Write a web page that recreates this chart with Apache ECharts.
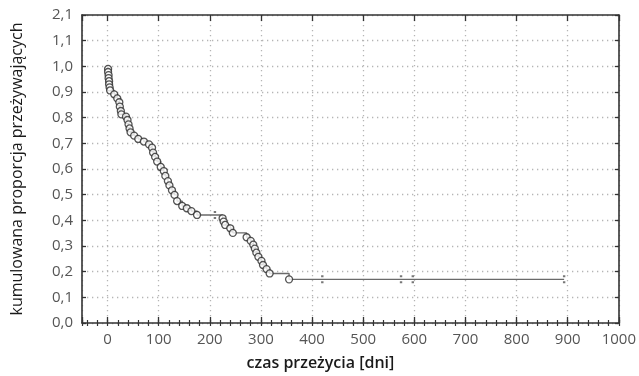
<!DOCTYPE html>
<html>
<head>
<meta charset="utf-8">
<script src="https://cdn.jsdelivr.net/npm/echarts@6/dist/echarts.min.js"></script>
<style>
html,body{margin:0;padding:0;background:#fff;}
#chart{width:639px;height:376px;}
</style>
</head>
<body>
<div id="chart"></div>
<script>
// Event times (days) and cumulative survival proportion after each event
var eventTimes = [1,1,2,2,3,3,4,5,
  13,19,23,24,26,27,36,39,41,43,45,52,60,71,81,87,89,93,97,104,110,113,118,121,126,131,136,146,155,164,175,
  225,227,230,240,245,272,280,285,288,291,295,301,304,311,317,355];
var eventSurvival = [0.990,0.978,0.966,0.954,0.942,0.930,0.918,0.906,
  0.891,0.875,0.860,0.843,0.826,0.813,0.804,0.791,0.774,0.758,0.743,0.730,0.717,0.707,0.696,0.683,0.664,0.647,0.629,0.608,0.592,0.573,0.553,0.536,0.517,0.499,0.475,0.456,0.447,0.436,0.421,
  0.408,0.395,0.382,0.369,0.351,0.334,0.320,0.305,0.290,0.274,0.258,0.242,0.226,0.210,0.193,0.170];
// Censored observations
var censorTimes = [210,420,574,597,893];
var censorSurvival = [0.421,0.170,0.170,0.170,0.170];
// Axis tick labels
var xTickLabels = ['0','100','200','300','400','500','600','700','800','900','1000'];
var yTickLabels = ['0,0','0,1','0,2','0,3','0,4','0,5','0,6','0,7','0,8','0,9','1,0','1,1','2,1'];
var xTitle = 'czas przeżycia [dni]';
var yTitle = 'kumulowana proporcja przeżywających';

var startPoint = [0, 1.0];
var linePts = [startPoint];
var all = [];
eventTimes.forEach(function(t,i){ all.push([t, eventSurvival[i]]); });
censorTimes.forEach(function(t,i){ all.push([t, censorSurvival[i]]); });
all.sort(function(a,b){ return a[0]-b[0] || b[1]-a[1]; });
all.forEach(function(p){ linePts.push([p[0], p[1]]); });

var eventPts = eventTimes.map(function(t,i){ return [t, eventSurvival[i]]; });
var censorPts = censorTimes.map(function(t,i){ return [t, censorSurvival[i]]; });

var FONT = 'Open Sans';
var axisCol = '#333';
var gridLineStyle = {color:'#b5b5b5', width:1.3, type:[1.3,3.7]};

function xLabel(v){
  if (v < 0 || Math.abs(v/100 - Math.round(v/100)) > 1e-6) return '';
  var idx = Math.round(v/100);
  return xTickLabels[idx] !== undefined ? xTickLabels[idx] : '';
}
function yLabel(v){
  var idx = Math.round(v*10);
  return yTickLabels[idx] !== undefined ? yTickLabels[idx] : '';
}

var chart = echarts.init(document.getElementById('chart'), null, {renderer:'canvas'});
chart.setOption({
  backgroundColor:'#fff',
  animation:false,
  grid:{left:82, top:15, right:16, bottom:53, containLabel:false},
  xAxis:[
    {type:'value', position:'bottom', min:-50, max:1000, splitNumber:10,
     name:xTitle, nameLocation:'middle', nameGap:32,
     nameTextStyle:{fontFamily:FONT, fontSize:16, color:'#1a1a1a', fontWeight:600, padding:[0,60,0,0]},
     axisLine:{show:true, onZero:false, lineStyle:{color:axisCol, width:1.6}},
     axisTick:{show:true, inside:true, length:6, lineStyle:{color:axisCol, width:1.3}},
     axisLabel:{formatter:xLabel, fontFamily:FONT, fontSize:15, color:'#555', margin:9, showMinLabel:true, showMaxLabel:true},
     splitLine:{show:true, lineStyle:gridLineStyle}},
    {type:'value', position:'bottom', min:-50, max:1000, splitNumber:52,
     axisLine:{show:false}, axisLabel:{show:false}, splitLine:{show:false},
     axisTick:{show:true, inside:true, length:3, lineStyle:{color:axisCol, width:1.2}}},
    {type:'value', position:'top', min:-50, max:1000, splitNumber:10,
     axisLine:{show:true, onZero:false, lineStyle:{color:axisCol, width:1.6}},
     axisLabel:{show:false}, splitLine:{show:false},
     axisTick:{show:true, inside:true, length:6, lineStyle:{color:axisCol, width:1.3}}},
    {type:'value', position:'top', min:-50, max:1000, splitNumber:52,
     axisLine:{show:false}, axisLabel:{show:false}, splitLine:{show:false},
     axisTick:{show:true, inside:true, length:3, lineStyle:{color:axisCol, width:1.2}}}
  ],
  yAxis:[
    {type:'value', position:'left', min:0, max:1.2, interval:0.1,
     name:yTitle, nameLocation:'middle', nameGap:57,
     nameTextStyle:{fontFamily:FONT, fontSize:16, color:'#1a1a1a'},
     axisLine:{show:true, onZero:false, lineStyle:{color:axisCol, width:1.6}},
     axisTick:{show:true, inside:true, length:4, lineStyle:{color:axisCol, width:1.3}},
     axisLabel:{formatter:yLabel, fontFamily:FONT, fontSize:15, color:'#555', margin:9, showMinLabel:true, showMaxLabel:true},
     splitLine:{show:true, lineStyle:gridLineStyle}},
    {type:'value', position:'right', min:0, max:1.2, interval:0.1,
     axisLine:{show:true, onZero:false, lineStyle:{color:axisCol, width:1.6}},
     axisTick:{show:true, inside:true, length:4, lineStyle:{color:axisCol, width:1.3}},
     axisLabel:{show:false}, splitLine:{show:false}}
  ],
  series:[
    {type:'line', xAxisIndex:0, yAxisIndex:0, data:linePts, step:'end', showSymbol:false,
     lineStyle:{color:'#6a6a6a', width:1.4}, z:2, silent:true},
    {type:'scatter', xAxisIndex:0, yAxisIndex:0, data:eventPts, symbol:'circle', symbolSize:7,
     itemStyle:{color:'#fff', borderColor:'#2a2a2a', borderWidth:1.3}, z:4, silent:true},
    {type:'scatter', xAxisIndex:0, yAxisIndex:0, data:censorPts,
     symbol:'path://M0,0h2v2h-2zM0,6h2v2h-2z', symbolSize:[2.4,8],
     itemStyle:{color:'#555'}, z:3, silent:true}
  ]
});
</script>
</body>
</html>
